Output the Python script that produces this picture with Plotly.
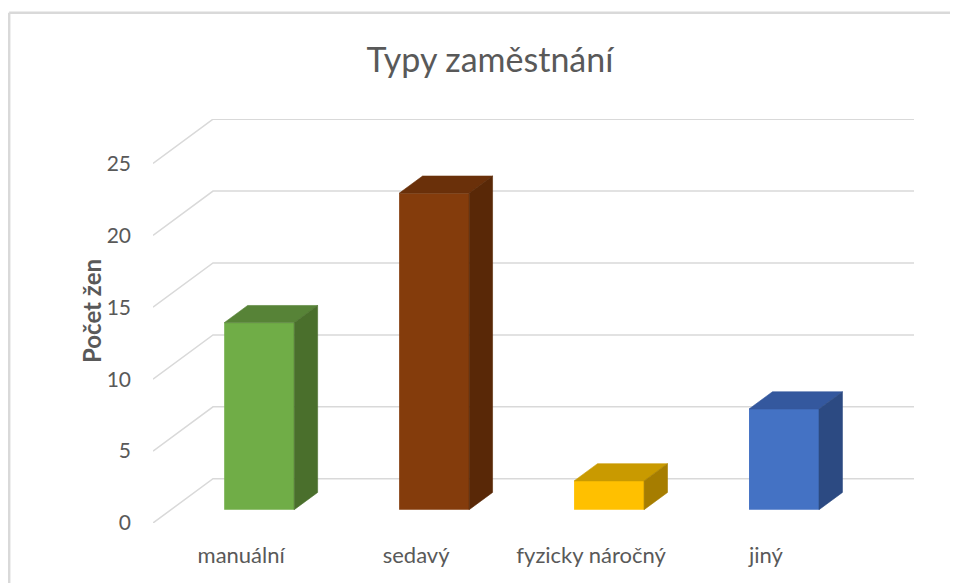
import plotly.graph_objects as go

# ---- data ----
categories = ["manuální", "sedavý", "fyzicky náročný", "jiný"]
counts = [13, 22, 2, 7]
front_colors = ["#70AD47", "#843C0C", "#FFC000", "#4472C4"]
top_colors = ["#578337", "#6A300A", "#C99A00", "#34589E"]
side_colors = ["#4A6F2C", "#592807", "#A67D00", "#2C4A82"]
y_ticks = [0, 5, 10, 15, 20, 25]

# ---- oblique projection geometry (in axis units) ----
WALL_DX, WALL_DY = 0.343, 3.08      # full floor depth (front edge -> back wall)
BAR_W = 0.40                          # bar width
BAR_OFF_DX, BAR_OFF_DY = 0.103, 0.925 # bar front face inside the floor
BAR_DX, BAR_DY = 0.134, 1.20          # bar depth
X0, X1 = -0.504, 3.846
Y1 = max(y_ticks) + WALL_DY + 0.01

TEXT = "#595959"
GRID = "#D9D9D9"
FONT = "Lato"
W, H = 950, 575   # page body has an 8px margin

fig = go.Figure()

# front faces as real bars
xs = [i + BAR_OFF_DX for i in range(len(categories))]
fig.add_trace(go.Bar(
    x=xs, y=counts, base=BAR_OFF_DY, width=BAR_W,
    marker=dict(color=front_colors, line=dict(width=0)),
    hoverinfo="skip", showlegend=False,
))

# top and side faces derived from the same values
for i, v in enumerate(counts):
    xl = xs[i] - BAR_W / 2
    xr = xs[i] + BAR_W / 2
    yb = BAR_OFF_DY
    yt = v + BAR_OFF_DY
    fig.add_trace(go.Scatter(
        x=[xl, xr, xr + BAR_DX, xl + BAR_DX, xl],
        y=[yt, yt, yt + BAR_DY, yt + BAR_DY, yt],
        mode="lines", fill="toself", fillcolor=top_colors[i],
        line=dict(width=0.6, color=top_colors[i]),
        hoverinfo="skip", showlegend=False,
    ))
    fig.add_trace(go.Scatter(
        x=[xr, xr + BAR_DX, xr + BAR_DX, xr, xr],
        y=[yb, yb + BAR_DY, yt + BAR_DY, yt, yb],
        mode="lines", fill="toself", fillcolor=side_colors[i],
        line=dict(width=0.6, color=side_colors[i]),
        hoverinfo="skip", showlegend=False,
    ))

# perspective gridlines (floor diagonal + back wall), below the bars
shapes = []
for v in y_ticks:
    shapes.append(dict(
        type="path", xref="x", yref="y", layer="below",
        path=f"M {X0},{v} L {X0 + WALL_DX},{v + WALL_DY} L {X1},{v + WALL_DY}",
        line=dict(color=GRID, width=1.5),
    ))

# chart-area border (left and top edges visible)
shapes.append(dict(type="line", xref="paper", yref="paper",
                   x0=-0.189, x1=-0.189, y0=1.263, y1=-0.3,
                   line=dict(color=GRID, width=2.5)))
shapes.append(dict(type="line", xref="paper", yref="paper",
                   x0=-0.189, x1=1.2, y0=1.263, y1=1.263,
                   line=dict(color=GRID, width=2.5)))

fig.update_layout(
    width=W, height=H,
    margin=dict(l=145, r=44, t=111, b=60),
    paper_bgcolor="white", plot_bgcolor="white",
    showlegend=False,
    shapes=shapes,
    title=dict(text="Typy zaměstnání", x=482 / W, xanchor="center",
               y=1 - 52 / H, yanchor="middle", xref="container", yref="container",
               font=dict(family=FONT, size=34, color=TEXT)),
    annotations=[dict(text="Počet žen", textangle=-90, xref="paper", yref="paper",
                      x=-0.080, y=0.525, xanchor="center", yanchor="middle",
                      showarrow=False,
                      font=dict(family=FONT, size=24, color=TEXT, weight="bold"))],
    font=dict(family=FONT, color=TEXT),
)
fig.update_xaxes(range=[X0, X1], tickvals=list(range(len(categories))),
                 ticktext=categories, showgrid=False, zeroline=False,
                 showline=False, ticks="", ticklabelstandoff=17,
                 tickfont=dict(family=FONT, size=22, color=TEXT), fixedrange=True)
fig.update_yaxes(range=[0, Y1], tickvals=y_ticks, showgrid=False, zeroline=False,
                 showline=False, ticks="", ticklabelstandoff=21,
                 tickfont=dict(family=FONT, size=21, color=TEXT), fixedrange=True)

fig.write_html("out.html")
